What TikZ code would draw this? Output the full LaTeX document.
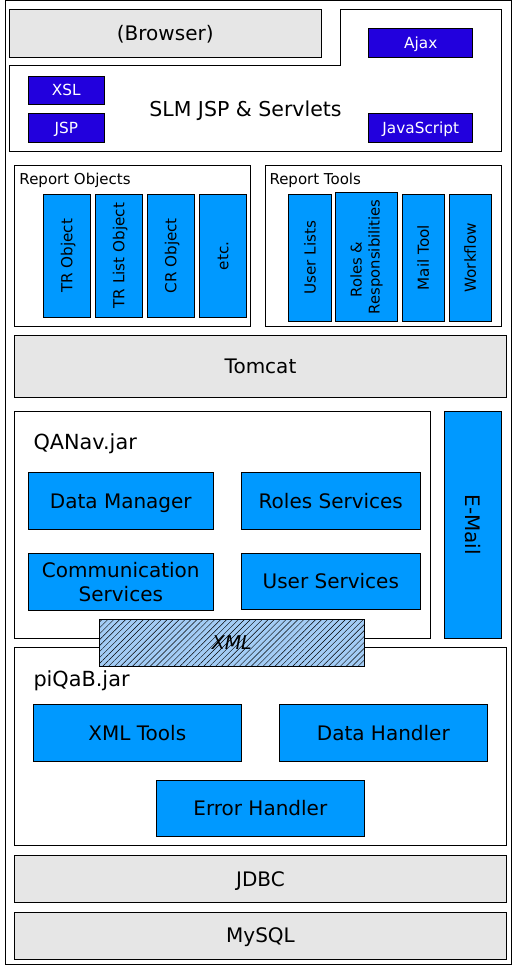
\documentclass[tikz,border=0pt]{standalone}
\usepackage{fontspec}
\setmainfont{DejaVu Sans}
\usetikzlibrary{patterns.meta}
\definecolor{boxgray}{HTML}{E6E6E6}
\definecolor{boxblue}{HTML}{0099FF}
\definecolor{boxdark}{HTML}{2200DD}
\definecolor{xmlblue}{HTML}{A3CCF5}
\tikzset{
  basebox/.style={draw=black, line width=1pt, rectangle, inner sep=0pt, outer sep=0pt},
  oneline/.style={text height=#1pt, text depth=0pt},
  graybox/.style={basebox, oneline=14.6, fill=boxgray, font=\fontsize{20}{24}\selectfont},
  bluebase/.style={basebox, fill=boxblue, font=\fontsize{20}{24}\selectfont, align=center},
  bluebox/.style={bluebase, oneline=14.6},
  darkbox/.style={basebox, oneline=11.2, fill=boxdark, text=white, font=\fontsize{15.3}{18}\selectfont},
  vbase/.style={basebox, fill=boxblue, rotate=90, font=\fontsize{15.2}{18}\selectfont, align=center},
  vbox/.style={vbase, oneline=11.1},
  framebox/.style={basebox, fill=white},
  lbl/.style={inner sep=0pt, anchor=base west},
  sz/.style 2 args={minimum width=#1pt, minimum height=#2pt},
}
\begin{document}
\begin{tikzpicture}[x=1pt, y=-1pt]
\useasboundingbox (0,0) rectangle (516,965);
% outer frame
\node[framebox, sz={506}{963.5}] (outer) at (258,482.25) {};
% browser and SLM
\node[graybox, sz={311.5}{48}] (browser) at (165.25,33.3) {(Browser)};
\draw[line width=1pt, fill=white] (9.3,66) -- (340,66) -- (340,9.3) -- (501.7,9.3) -- (501.7,151.7) -- (9.3,151.7) -- cycle;
\node[inner sep=0pt, oneline=15, font=\fontsize{20.5}{24}\selectfont] (slm) at (245.5,109.2) {SLM JSP \& Servlets};
\node[darkbox, sz={103.7}{29.3}] (ajax) at (420.8,42.7) {Ajax};
\node[darkbox, sz={76}{28}] (xsl) at (66.3,90.3) {XSL};
\node[darkbox, sz={76}{29}] (jsp) at (66.3,127.8) {JSP};
\node[darkbox, sz={103.7}{29}] (js) at (420.8,127.8) {JavaScript};
% report objects
\node[framebox, sz={236}{160.7}] (repobj) at (132.3,245.7) {};
\node[lbl, font=\fontsize{15}{18}\selectfont] (repobjlbl) at (19.3,185) {Report Objects};
\node[vbox, sz={123}{47}] (tro) at (66.8,255.8) {TR Object};
\node[vbox, sz={123}{47}] (trlo) at (118.8,255.8) {TR List Object};
\node[vbox, sz={123}{47}] (cro) at (170.8,255.8) {CR Object};
\node[vbox, sz={123}{47}] (etc) at (222.8,255.8) {etc.};
% report tools
\node[framebox, sz={236}{160.7}] (reptools) at (383.7,245.7) {};
\node[lbl, font=\fontsize{15}{18}\selectfont] (reptoolslbl) at (269.3,185) {Report Tools};
\node[vbox, sz={127}{43.4}] (ulists) at (310,257.8) {User Lists};
\node[vbase, sz={129}{61.6}, font=\fontsize{14.8}{18}\selectfont] (roles) at (366.5,256.8) {Roles \&\hspace*{1.7em}\\Responsibilities};
\node[vbox, sz={127}{42}] (mail) at (423.3,257.8) {Mail Tool};
\node[vbox, sz={127}{42}] (workflow) at (470.3,257.8) {Workflow};
% tomcat
\node[graybox, sz={492.4}{62}] (tomcat) at (260.5,366.3) {Tomcat};
% QANav
\node[framebox, sz={416}{226.7}] (qanav) at (222.3,524.7) {};
\node[lbl, font=\fontsize{20.8}{24}\selectfont] (qanavlbl) at (33.3,449) {QANav.jar};
\node[bluebox, rotate=-90, minimum width=226.7pt, minimum height=57.4pt] (email) at (473,524.7) {E-Mail};
\node[bluebox, sz={185}{56.6}] (datamgr) at (120.8,501) {Data Manager};
\node[bluebox, sz={179}{56.6}] (rolesvc) at (330.8,501) {Roles Services};
\node[bluebase, sz={185}{56.7}] (commsvc) at (120.8,581.7) {Communication\\Services};
\node[bluebox, sz={179}{56}] (usersvc) at (330.8,581.3) {User Services};
% piQaB
\node[framebox, sz={492.4}{198.4}] (piqab) at (260.5,746.5) {};
\node[lbl, font=\fontsize{20.8}{24}\selectfont] (piqablbl) at (33.3,686) {piQaB.jar};
\node[bluebox, sz={208}{57}] (xmltools) at (137.3,732.8) {XML Tools};
\node[bluebox, sz={208}{57}] (datahandler) at (383.3,732.8) {Data Handler};
\node[bluebox, sz={208}{55.7}] (errhandler) at (260.3,808.2) {Error Handler};
% XML overlap
\node[basebox, oneline=13.9, sz={265}{46.7}, preaction={fill=xmlblue}, pattern={Lines[angle=45,distance=4.2pt,line width=0.45pt]}, font=\itshape\fontsize{19}{22}\selectfont] (xml) at (231.8,642.7) {XML};
% JDBC / MySQL
\node[graybox, sz={492.4}{46.7}] (jdbc) at (260.5,878.7) {JDBC};
\node[graybox, sz={492.4}{47}] (mysql) at (260.5,935.5) {MySQL};
\end{tikzpicture}
\end{document}
